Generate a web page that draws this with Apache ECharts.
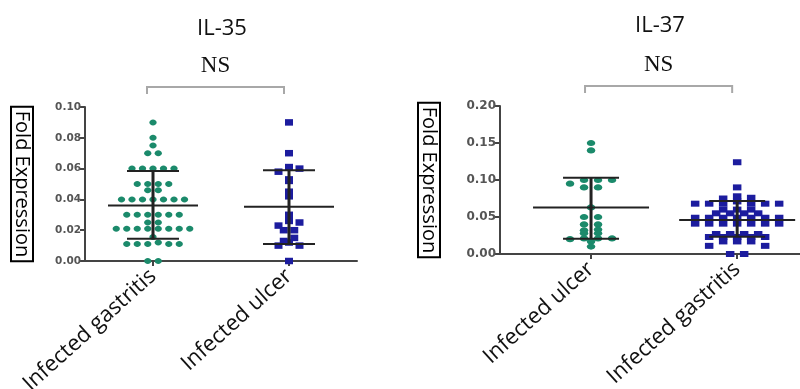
<!DOCTYPE html>
<html>
<head>
<meta charset="utf-8">
<script src="https://cdn.jsdelivr.net/npm/echarts@6/dist/echarts.min.js"></script>
<style>
  html, body { margin: 0; padding: 0; background: #fff; }
  #main { width: 800px; height: 389px; }
</style>
</head>
<body>
<div id="main"></div>
<script>
// IL-35 panel
var il35Cats = ['Infected gastritis', 'Infected ulcer'];
var il35Gastritis = [0.09, 0.08, 0.075, 0.07, 0.07, 0.06, 0.06, 0.06, 0.06, 0.06,
    0.05, 0.05, 0.05, 0.05, 0.046, 0.046, 0.04, 0.04, 0.04, 0.04, 0.04, 0.04, 0.04,
    0.03, 0.03, 0.03, 0.03, 0.03, 0.03, 0.025, 0.025, 0.021, 0.021, 0.021, 0.021,
    0.021, 0.021, 0.021, 0.021, 0.0156, 0.012, 0.011, 0.011, 0.011, 0.011, 0.011, 0, 0];
var il35Ulcer = [0.09, 0.07, 0.061, 0.06, 0.058, 0.053, 0.052, 0.045, 0.042, 0.03,
    0.026, 0.025, 0.023, 0.02, 0.02, 0.015, 0.013, 0.012, 0.01, 0.01, 0];
var il35Mean = [0.036, 0.0353];
var il35Lower = [0.0145, 0.011];
var il35Upper = [0.0584, 0.059];

// IL-37 panel
var il37Cats = ['Infected ulcer', 'Infected gastritis'];
var il37Ulcer = [0.15, 0.14, 0.1, 0.1, 0.1, 0.095, 0.09, 0.09, 0.063, 0.05, 0.05,
    0.04, 0.04, 0.033, 0.032, 0.028, 0.028, 0.021, 0.021, 0.021, 0.02, 0.017, 0.01];
var il37Gastritis = [0.124, 0.09, 0.078, 0.076, 0.075, 0.071, 0.068, 0.068, 0.068,
    0.068, 0.068, 0.068, 0.06, 0.06, 0.06, 0.055, 0.055, 0.055, 0.055, 0.049, 0.049,
    0.049, 0.049, 0.049, 0.049, 0.049, 0.041, 0.041, 0.041, 0.041, 0.041, 0.041, 0.041,
    0.027, 0.027, 0.027, 0.027, 0.023, 0.023, 0.023, 0.023, 0.023, 0.017, 0.017, 0.017,
    0.011, 0.011, 0, 0];
var il37Mean = [0.0629, 0.046];
var il37Lower = [0.0207, 0.0234];
var il37Upper = [0.103, 0.0715];

var GREEN = '#1b8a6b';
var BLUE = '#1c1c9e';

// bin values into rows and spread each row sideways (dot plot layout)
function swarm(values, cat, bin, gap) {
    var sorted = values.slice().sort(function (a, b) { return b - a; });
    var rows = {}, order = [];
    sorted.forEach(function (v) {
        var key = Math.round(v / bin);
        if (!rows[key]) { rows[key] = []; order.push(key); }
        rows[key].push(v);
    });
    var out = [];
    order.forEach(function (key) {
        var r = rows[key], n = r.length, slots = [];
        for (var k = 0; k < n; k++) slots.push((k - (n - 1) / 2) * gap);
        slots.sort(function (a, b) { return Math.abs(a) - Math.abs(b) || b - a; });
        r.forEach(function (v, i) { out.push([cat, v, slots[i]]); });
    });
    return out;
}

function dotSeries(idx, data, color, shape, w, h) {
    return {
        type: 'custom', xAxisIndex: idx, yAxisIndex: idx, clip: false, z: 2,
        data: data,
        renderItem: function (params, api) {
            var p = api.coord([api.value(0), api.value(1)]);
            var x = p[0] + api.value(2), y = p[1];
            if (shape === 'circle') {
                return { type: 'ellipse', shape: { cx: x, cy: y, rx: w / 2, ry: h / 2 },
                    style: { fill: color } };
            }
            return { type: 'rect', shape: { x: x - w / 2, y: y - h / 2, width: w, height: h },
                style: { fill: color } };
        }
    };
}

function errSeries(idx, mean, lower, upper, halfMean, halfCap) {
    var data = mean.map(function (m, i) { return [i + 1, m, lower[i], upper[i]]; });
    return {
        type: 'custom', xAxisIndex: idx, yAxisIndex: idx, clip: false, z: 3,
        data: data,
        renderItem: function (params, api) {
            var c = api.value(0);
            var pm = api.coord([c, api.value(1)]);
            var pl = api.coord([c, api.value(2)]);
            var pu = api.coord([c, api.value(3)]);
            var st = { stroke: '#222', lineWidth: 2 };
            return { type: 'group', children: [
                { type: 'line', shape: { x1: pm[0] - halfMean, y1: pm[1], x2: pm[0] + halfMean, y2: pm[1] }, style: st },
                { type: 'line', shape: { x1: pl[0], y1: pl[1], x2: pu[0], y2: pu[1] }, style: { stroke: '#222', lineWidth: 3 } },
                { type: 'line', shape: { x1: pu[0] - halfCap, y1: pu[1], x2: pu[0] + halfCap, y2: pu[1] }, style: st },
                { type: 'line', shape: { x1: pl[0] - halfCap, y1: pl[1], x2: pl[0] + halfCap, y2: pl[1] }, style: st }
            ]};
        }
    };
}

function bracketSeries(idx, yMax) {
    return {
        type: 'custom', xAxisIndex: idx, yAxisIndex: idx, clip: false, silent: true,
        data: [[1, 2, yMax]],
        renderItem: function (params, api) {
            var a = api.coord([api.value(0), api.value(2)]);
            var b = api.coord([api.value(1), api.value(2)]);
            var y = a[1] - 20, x1 = a[0] - 6, x2 = b[0] - 5;
            return { type: 'group', children: [
                { type: 'polyline', shape: { points: [[x1, y + 7], [x1, y], [x2, y], [x2, y + 7]] },
                    style: { stroke: '#a8a8a8', lineWidth: 2, fill: null } },
                { type: 'text', style: { text: 'NS', x: (x1 + x2) / 2, y: y - 21, align: 'center',
                    verticalAlign: 'middle', fontFamily: 'Liberation Serif', fontSize: 23, fill: '#111' } }
            ]};
        }
    };
}

function xAxisFor(idx, cats, min, max) {
    return {
        type: 'value', gridIndex: idx, min: min, max: max,
        axisLine: { show: true, onZero: false, lineStyle: { color: '#444', width: 2 } },
        axisTick: { show: true, customValues: [1, 2], length: 5, lineStyle: { color: '#444', width: 2 } },
        axisLabel: {
            customValues: [1, 2], rotate: 42, margin: 12,
            formatter: function (v) { return cats[Math.round(v) - 1]; },
            fontFamily: 'Open Sans', fontSize: 22, color: '#111'
        },
        splitLine: { show: false }
    };
}

function yAxisFor(idx, max, interval, gap, labelSize) {
    return {
        type: 'value', gridIndex: idx, min: 0, max: max, interval: interval,
        name: 'Fold Expression', nameLocation: 'middle', nameRotate: -90, nameGap: gap,
        nameTextStyle: { fontFamily: 'Open Sans', fontSize: 20, color: '#000', lineHeight: 20,
            borderColor: '#000', borderWidth: 2, padding: [1, 4] },
        axisLine: { show: true, lineStyle: { color: '#444', width: 2 } },
        axisTick: { show: true, length: 5, lineStyle: { color: '#444', width: 2 } },
        axisLabel: { margin: 4, fontFamily: 'DejaVu Sans', fontWeight: 'bold', fontSize: labelSize,
            color: '#555', formatter: function (v) { return v.toFixed(2); } },
        splitLine: { show: false }
    };
}

var chart = echarts.init(document.getElementById('main'));
chart.setOption({
    animation: false,
    backgroundColor: '#fff',
    title: [
        { text: 'IL-35', left: 217, top: 13, textAlign: 'center',
            textStyle: { fontFamily: 'Open Sans', fontSize: 22, fontWeight: 'normal', color: '#111' } },
        { text: 'IL-37', left: 655, top: 10, textAlign: 'center',
            textStyle: { fontFamily: 'Open Sans', fontSize: 22, fontWeight: 'normal', color: '#111' } }
    ],
    grid: [
        { left: 85, top: 107, width: 272, height: 154, outerBoundsMode: 'none' },
        { left: 500, top: 106, width: 300, height: 148, outerBoundsMode: 'none' }
    ],
    xAxis: [
        xAxisFor(0, il35Cats, 0.5, 2.5),
        xAxisFor(1, il37Cats, 0.377, 2.43)
    ],
    yAxis: [
        yAxisFor(0, 0.1, 0.02, 52, 10.5),
        yAxisFor(1, 0.2, 0.05, 60, 12)
    ],
    series: [
        dotSeries(0, swarm(il35Gastritis, 1, 0.005, 10.5), GREEN, 'circle', 7.2, 6),
        dotSeries(0, swarm(il35Ulcer, 2, 0.005, 10.5), BLUE, 'square', 8, 6.5),
        errSeries(0, il35Mean, il35Lower, il35Upper, 45, 26),
        bracketSeries(0, 0.1),
        dotSeries(1, swarm(il37Ulcer, 1, 0.007, 14), GREEN, 'circle', 8.5, 6.2),
        dotSeries(1, swarm(il37Gastritis, 2, 0.007, 14), BLUE, 'square', 8.5, 6),
        errSeries(1, il37Mean, il37Lower, il37Upper, 58, 28),
        bracketSeries(1, 0.2)
    ]
});
</script>
</body>
</html>
